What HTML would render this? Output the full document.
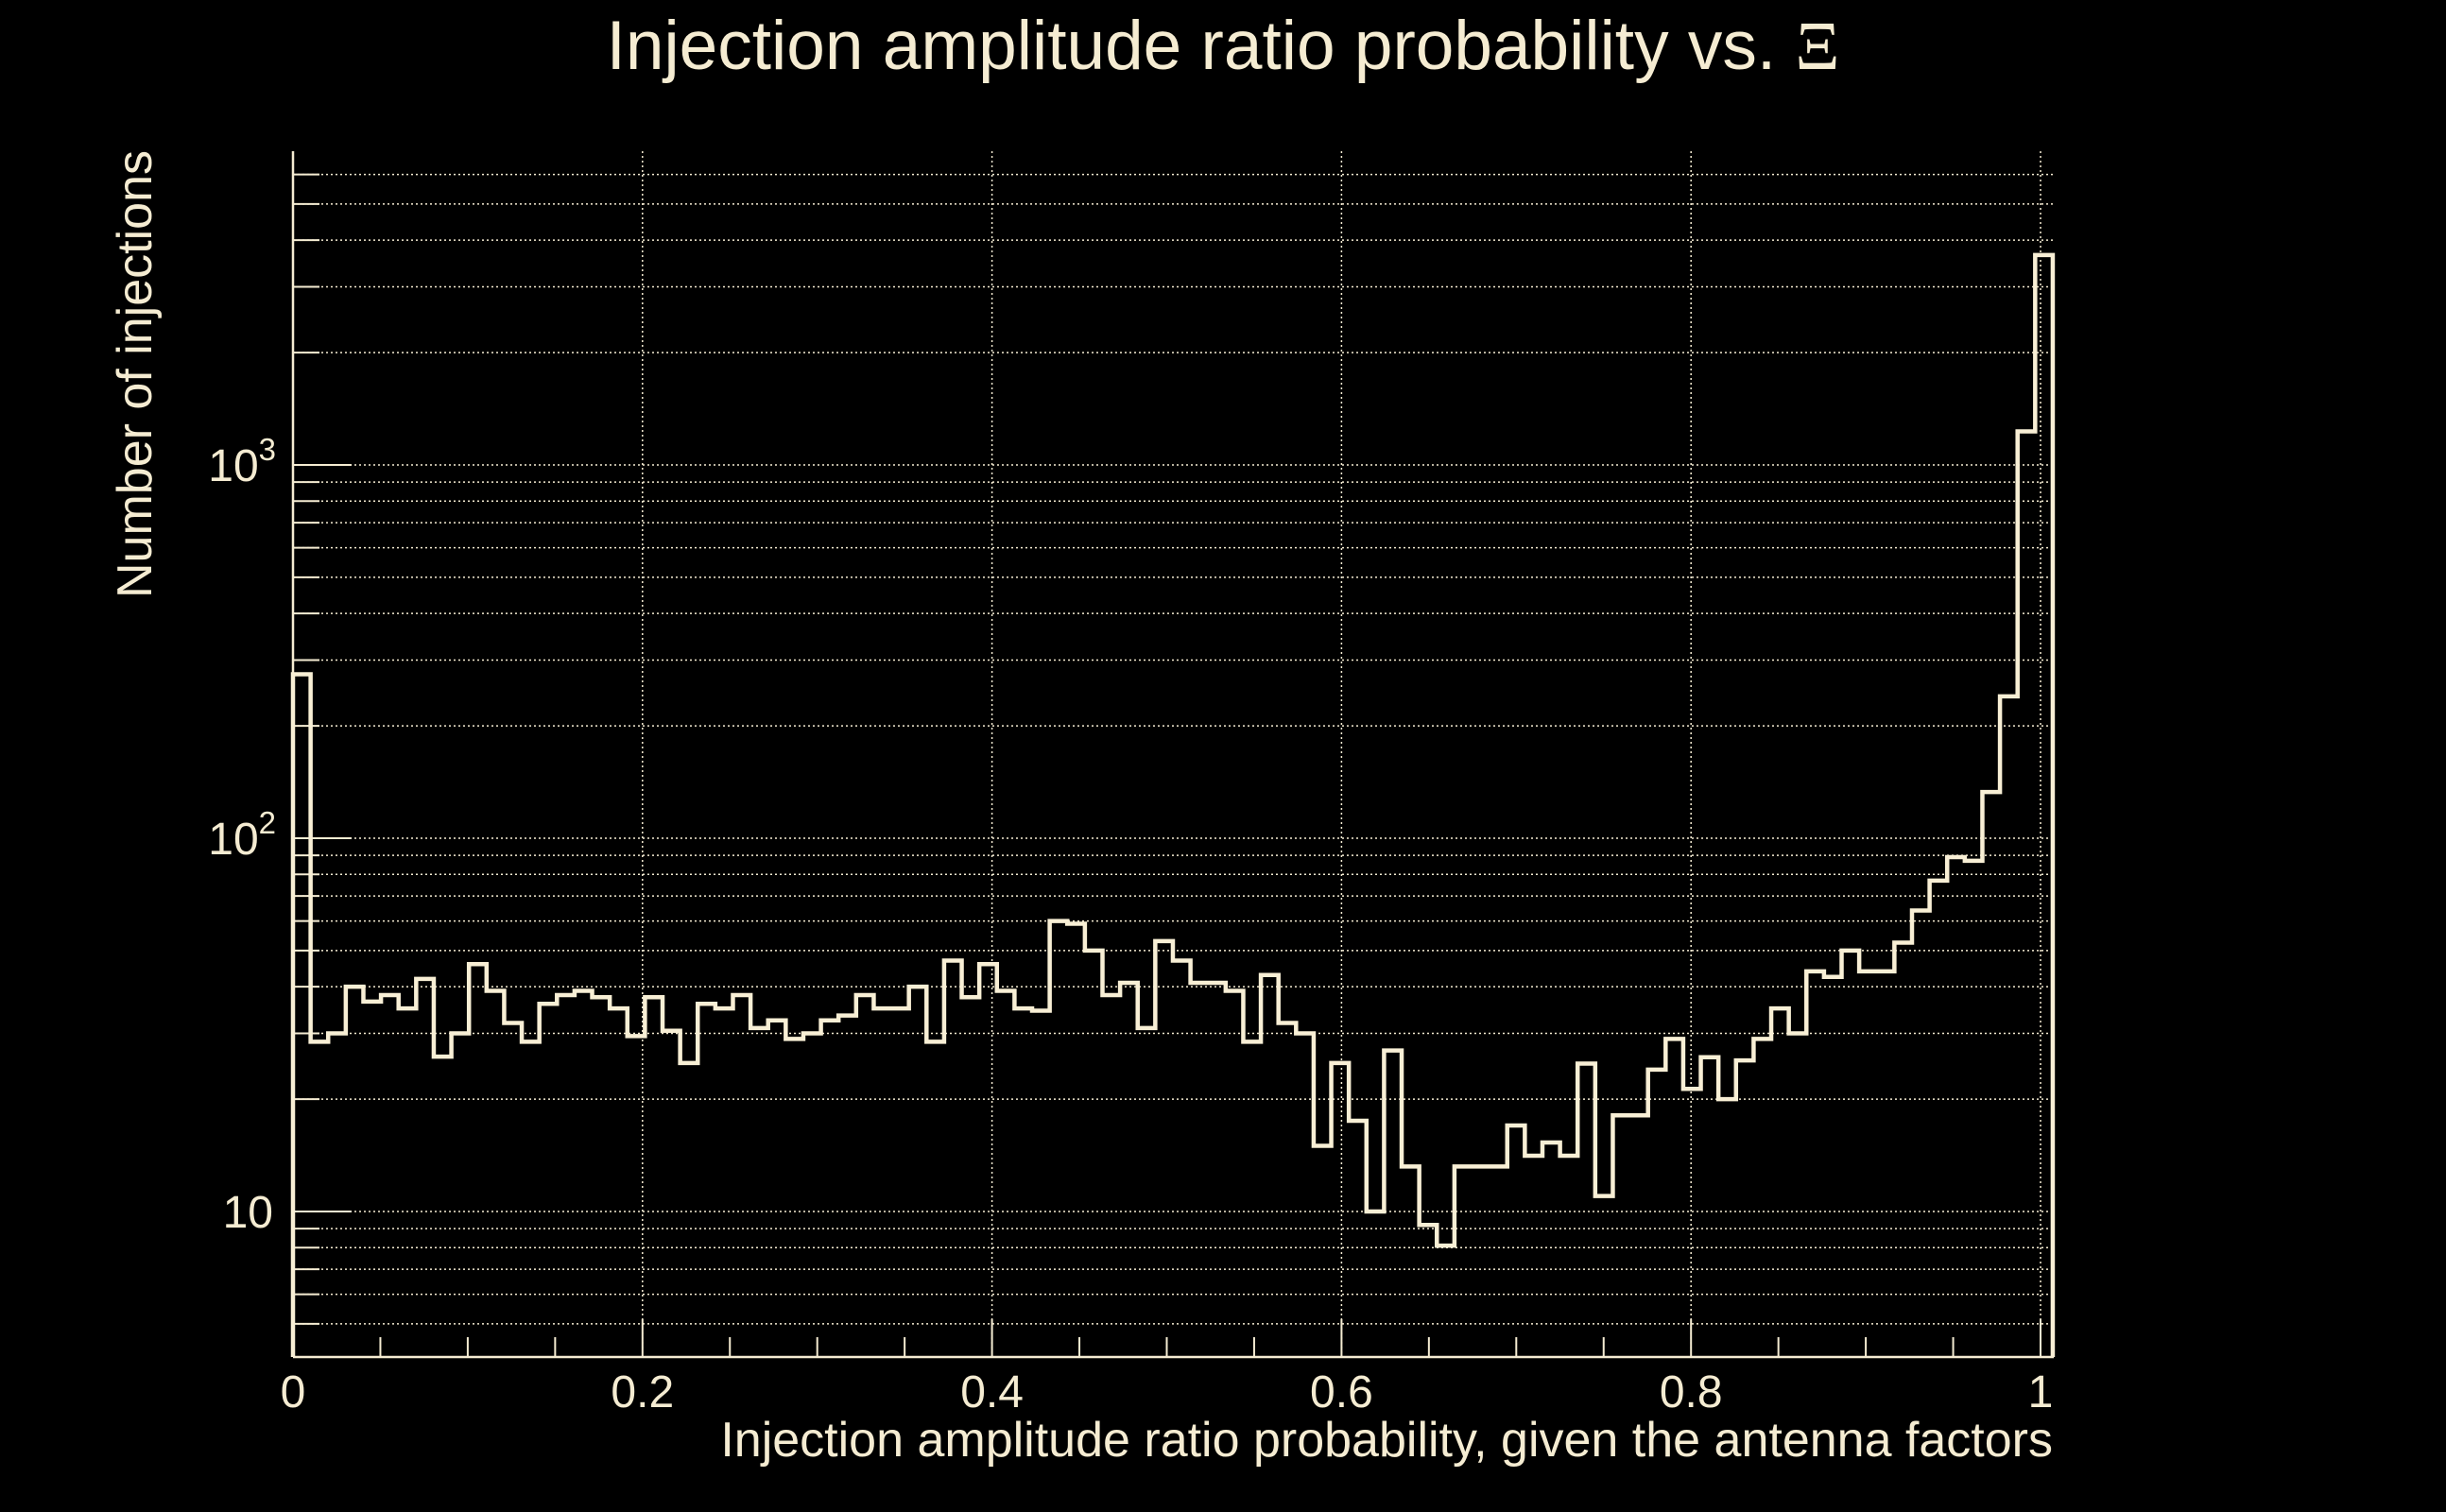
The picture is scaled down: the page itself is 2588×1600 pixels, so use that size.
<!DOCTYPE html>
<html><head><meta charset="utf-8"><style>
html,body{margin:0;padding:0;background:#000;}
svg{display:block;}
text{font-family:"Liberation Sans",sans-serif;fill:#f5ecd2;}
</style></head><body>
<svg id="chart" width="2588" height="1600" viewBox="0 0 2588 1600" xmlns="http://www.w3.org/2000/svg">
<rect width="2588" height="1600" fill="#000"/>
<text x="1294" y="73" font-size="73" text-anchor="middle">Injection amplitude ratio probability vs. <tspan font-family="Liberation Serif, serif">Ξ</tspan></text>
<text transform="translate(160,396) rotate(-90)" font-size="52" text-anchor="middle">Number of injections</text>
<text x="2172" y="1541" font-size="52" text-anchor="end">Injection amplitude ratio probability, given the antenna factors</text>
<g id="grid"></g>
<g id="axes"></g>
<path id="hist" fill="none" stroke="#f8efd5" stroke-width="4.5"/>
</svg>
<script>
const binEdgesStart = 0, binWidth = 0.01007;
const counts = [275,28.5,30,40,36.5,38,35,42,26,30,46,39,32,28.5,36,38,39,37.5,35,29.5,
37.5,30.5,25,36,35,38,31,32.5,29,30,32.5,33.5,38,35,35,40,28.5,47,37.5,46,
39,35,34.5,60,59,50,38,41,31,53,47,41,41,39,28.5,43,32,30,15,25,
17.5,10,27,13.2,9.2,8.1,13.2,13.2,13.2,17,14.1,15.3,14.1,24.9,11,18.1,18.1,24,29,21.3,
25.9,20,25.4,29,35,30,44,42.5,50,44,44,52.5,64,77,89,87,133,240,1230,3650];
const xTickLabels = ["0","0.2","0.4","0.6","0.8","1"];
const xTickValues = [0,0.2,0.4,0.6,0.8,1];
const yDecades = [10,100,1000];

const X0=310, XS=1849, XEND=2173, YTOP=160, YBOT=1436;
const Y10=1282, DEC=395;
function xs(v){return X0+v*XS;}
function ys(v){return Y10-(Math.log10(v)-1)*DEC;}
const NS="http://www.w3.org/2000/svg";
function mk(tag,attrs,parent){const e=document.createElementNS(NS,tag);for(const k in attrs)e.setAttribute(k,attrs[k]);parent.appendChild(e);return e;}
const grid=document.getElementById('grid'), axes=document.getElementById('axes');
const col="#f5ecd2";
for(let d=1; d<=1000; d*=10){
  for(let m=1;m<=9;m++){
    const v=d*m; const y=ys(v);
    if(y<YTOP||y>YBOT) continue;
    const l=mk('line',{x1:X0,x2:XEND,y1:y,y2:y,stroke:col,'stroke-width':1.5,'stroke-dasharray':'2 3'},grid);
    
    
    const t=mk('line',{x1:X0,x2:X0+(m===1?62:28),y1:y,y2:y,stroke:col,'stroke-width':2},axes);
    
    
  }
}
xTickValues.forEach((v,i)=>{
  const x=xs(v);
  if(i>0){const l=mk('line',{x1:x,x2:x,y1:YTOP,y2:YBOT,stroke:col,'stroke-width':1.5,'stroke-dasharray':'2 3'},grid);
  
  }
  const t=mk('text',{x:x,y:1489,'font-size':48,'text-anchor':'middle'},axes);
  t.textContent=xTickLabels[i];
  
  
});
for(let k=0;k<=20;k++){
  const x=xs(k*0.05); const len=(k%4===0)?40:21;
  const t=mk('line',{x1:x,x2:x,y1:YBOT,y2:YBOT-len,stroke:col,'stroke-width':2},axes);
  
  
}
const ax=mk('line',{x1:X0,x2:XEND,y1:YBOT,y2:YBOT,stroke:col,'stroke-width':2.5},axes);


const ay=mk('line',{x1:X0,x2:X0,y1:YTOP,y2:YBOT,stroke:col,'stroke-width':2.5},axes);


yDecades.forEach(v=>{
  const y=ys(v);
  const t=mk('text',{x:289,y:y+17,'font-size':48,'text-anchor':'end'},axes);
  const exp=Math.round(Math.log10(v));
  if(exp===1){t.textContent="10";}
  else{t.textContent="10";const s=mk('tspan',{'font-size':33,dy:-22},t);s.textContent=String(exp);t.setAttribute('x',292);}
  
  
});
let d="";
counts.forEach((c,i)=>{
  const xa=xs(binEdgesStart+i*binWidth), xb=xs(binEdgesStart+(i+1)*binWidth), y=ys(c);
  d+=(i===0?`M${xa},${YBOT} L${xa},${y}`:` L${xa},${y}`)+` L${xb},${y}`;
});
d+=` L${xs(binEdgesStart+counts.length*binWidth)},${YBOT}`;
document.getElementById('hist').setAttribute('d',d);
</script>
</body></html>
